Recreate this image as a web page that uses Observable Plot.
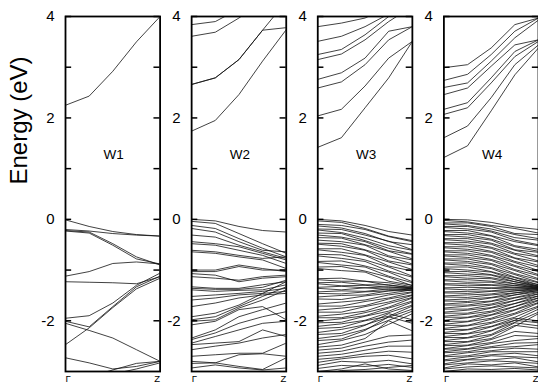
<!DOCTYPE html>
<html><head><meta charset="utf-8">
<script src="https://cdn.jsdelivr.net/npm/d3@7"></script>
<script src="https://cdn.jsdelivr.net/npm/@observablehq/plot@0.6"></script>
<style>body{margin:0;background:#fff}#chart{width:538px;height:387px;overflow:hidden}</style>
</head><body><div id="chart"></div>
<script>
const kPoints = [0, 0.25, 0.5, 0.75, 1];
const panels = ["W1", "W2", "W3", "W4"];
const yTicksMajor = [4, 2, 0, -2];
const yTicksMinor = [3, 1, -1];
const kLabels = ["Γ", "Z"];
const yTitle = "Energy (eV)";

const w1Bands = [
  [2.25, 2.43, 2.92, 3.5, 4.0],
  [-0.01, -0.14, -0.24, -0.3, -0.33],
  [-0.2, -0.23, -0.28, -0.31, -0.33],
  [-0.22, -0.25, -0.48, -0.74, -0.9],
  [-0.23, -0.27, -0.51, -0.78, -0.88],
  [-1.12, -1.03, -0.87, -0.84, -0.88],
  [-1.23, -1.24, -1.25, -1.27, -1.13],
  [-1.95, -1.9, -1.65, -1.3, -1.06],
  [-2.01, -2.12, -1.72, -1.33, -1.12],
  [-2.05, -2.19, -2.34, -2.57, -2.8],
  [-2.47, -2.14, -1.74, -1.37, -1.16],
  [-2.73, -2.83, -2.95, -2.9, -2.8],
  [-3.2, -3.1, -2.97, -2.84, -2.8],
  [-3.3, -3.2, -3.05, -2.95, -2.83]
];

const w2Bands = [
  [3.84, 3.9, 4.15, 4.4, 4.6],
  [3.61, 3.69, 3.97, 4.3, 4.5],
  [2.66, 2.79, 3.15, 3.73, 3.78],
  [2.66, 2.79, 3.15, 3.73, 4.3],
  [1.74, 1.95, 2.46, 3.12, 3.74],
  [0.0, -0.03, -0.14, -0.22, -0.25],
  [-0.04, -0.08, -0.28, -0.48, -0.67],
  [-0.12, -0.18, -0.38, -0.57, -0.74],
  [-0.18, -0.25, -0.44, -0.61, -0.64],
  [-0.31, -0.35, -0.51, -0.64, -0.77],
  [-0.44, -0.48, -0.54, -0.67, -0.8],
  [-0.48, -0.51, -0.61, -0.71, -0.87],
  [-0.61, -0.64, -0.71, -0.77, -0.74],
  [-0.64, -0.67, -0.74, -0.8, -0.97],
  [-1.0, -1.0, -0.9, -0.97, -1.03],
  [-1.03, -1.03, -0.93, -1.0, -1.0],
  [-1.07, -1.1, -1.23, -1.16, -1.13],
  [-1.13, -1.16, -1.2, -1.13, -1.1],
  [-1.33, -1.36, -1.36, -1.29, -1.23],
  [-1.36, -1.38, -1.38, -1.34, -1.2],
  [-1.39, -1.42, -1.4, -1.39, -1.29],
  [-1.52, -1.49, -1.46, -1.42, -1.36],
  [-1.59, -1.55, -1.49, -1.46, -1.42],
  [-1.72, -1.65, -1.55, -1.49, -1.46],
  [-1.92, -1.85, -1.69, -1.46, -1.23],
  [-1.98, -1.92, -1.72, -1.52, -1.33],
  [-2.01, -1.98, -1.75, -1.59, -1.39],
  [-2.08, -2.01, -1.78, -1.72, -1.98],
  [-2.34, -2.18, -1.92, -1.78, -1.65],
  [-2.37, -2.24, -2.05, -1.92, -1.82],
  [-2.44, -2.31, -2.18, -2.05, -2.01],
  [-2.47, -2.44, -2.41, -2.18, -2.31],
  [-2.57, -2.5, -2.44, -2.34, -2.27],
  [-2.7, -2.67, -2.64, -2.64, -2.44],
  [-2.8, -2.83, -2.67, -2.65, -2.7],
  [-2.84, -2.83, -2.9, -2.96, -2.73],
  [-2.93, -2.87, -2.93, -2.97, -2.93]
];

const w3Bands = [
  [3.8, 3.87, 3.97, 4.2, 4.4],
  [3.51, 3.61, 3.8, 4.05, 4.3],
  [3.25, 3.35, 3.64, 4.0, 4.2],
  [3.15, 3.26, 3.54, 3.9, 4.2],
  [2.76, 2.89, 3.18, 3.71, 3.8],
  [2.59, 2.71, 3.05, 3.54, 3.8],
  [2.04, 2.17, 2.63, 3.18, 3.51],
  [1.42, 1.61, 2.2, 2.79, 3.51],
  [0.0, -0.03, -0.12, -0.24, -0.31],
  [-0.03, -0.06, -0.18, -0.33, -0.42],
  [-0.1, -0.12, -0.2, -0.34, -0.44],
  [-0.13, -0.17, -0.28, -0.44, -0.5],
  [-0.19, -0.2, -0.31, -0.43, -0.6],
  [-0.21, -0.26, -0.37, -0.52, -0.61],
  [-0.27, -0.28, -0.42, -0.57, -0.68],
  [-0.31, -0.35, -0.44, -0.62, -0.69],
  [-0.36, -0.37, -0.5, -0.63, -0.78],
  [-0.41, -0.44, -0.51, -0.72, -0.8],
  [-0.47, -0.48, -0.6, -0.74, -0.88],
  [-0.49, -0.53, -0.61, -0.82, -0.9],
  [-0.58, -0.58, -0.7, -0.84, -0.99],
  [-0.6, -0.65, -0.71, -0.92, -1.02],
  [-0.69, -0.7, -0.8, -0.94, -1.12],
  [-0.72, -0.77, -0.83, -1.02, -1.14],
  [-0.83, -0.82, -0.92, -1.04, -1.23],
  [-0.85, -0.9, -0.94, -1.12, -1.25],
  [-0.94, -0.93, -1.02, -1.14, -1.31],
  [-0.97, -1.01, -1.04, -1.22, -1.3],
  [-1.17, -1.16, -1.22, -1.25, -1.33],
  [-1.19, -1.22, -1.22, -1.3, -1.34],
  [-1.25, -1.24, -1.29, -1.29, -1.36],
  [-1.27, -1.31, -1.3, -1.34, -1.34],
  [-1.34, -1.32, -1.35, -1.33, -1.37],
  [-1.36, -1.39, -1.35, -1.38, -1.36],
  [-1.43, -1.41, -1.42, -1.37, -1.39],
  [-1.46, -1.47, -1.43, -1.41, -1.37],
  [-1.53, -1.5, -1.49, -1.41, -1.4],
  [-1.57, -1.58, -1.51, -1.46, -1.39],
  [-1.67, -1.63, -1.59, -1.49, -1.43],
  [-1.71, -1.71, -1.62, -1.55, -1.44],
  [-1.79, -1.75, -1.7, -1.57, -1.49],
  [-1.83, -1.83, -1.72, -1.63, -1.5],
  [-1.91, -1.87, -1.81, -1.66, -1.54],
  [-1.94, -1.94, -1.84, -1.73, -1.55],
  [-2.01, -1.96, -1.9, -1.75, -1.61],
  [-2.04, -2.03, -1.91, -1.81, -1.63],
  [-2.11, -2.06, -1.99, -1.84, -1.69],
  [-2.15, -2.13, -2.0, -1.91, -1.71],
  [-2.23, -2.17, -2.08, -1.93, -1.77],
  [-2.27, -2.25, -2.09, -1.86, -1.98],
  [-2.35, -2.29, -2.17, -1.99, -1.81],
  [-2.39, -2.36, -2.19, -1.92, -2.05],
  [-2.47, -2.39, -2.27, -2.07, -1.86],
  [-2.52, -2.48, -2.35, -2.0, -2.2],
  [-2.58, -2.54, -2.42, -2.3, -2.28],
  [-2.64, -2.6, -2.5, -2.42, -2.38],
  [-2.7, -2.66, -2.58, -2.5, -2.5],
  [-2.76, -2.72, -2.65, -2.6, -2.62],
  [-2.82, -2.75, -2.7, -2.68, -2.75],
  [-2.88, -2.8, -2.82, -2.78, -2.85],
  [-2.94, -2.88, -2.9, -2.86, -2.92],
  [-3.0, -2.95, -2.85, -2.95, -2.98],
  [-3.1, -2.98, -2.96, -2.92, -2.88]
];

const w4Bands = [
  [2.99, 3.05, 3.38, 3.84, 3.97],
  [2.74, 2.86, 3.25, 3.71, 3.97],
  [2.6, 2.69, 3.12, 3.58, 3.93],
  [2.46, 2.59, 3.02, 3.44, 3.54],
  [2.17, 2.3, 2.79, 3.31, 3.54],
  [2.07, 2.2, 2.69, 3.21, 3.51],
  [1.61, 1.84, 2.4, 3.05, 3.44],
  [1.22, 1.45, 2.14, 2.85, 3.38],
  [0.0, -0.01, -0.06, -0.15, -0.2],
  [-0.02, -0.05, -0.12, -0.18, -0.27],
  [-0.07, -0.07, -0.14, -0.28, -0.3],
  [-0.09, -0.12, -0.19, -0.3, -0.38],
  [-0.14, -0.14, -0.23, -0.36, -0.41],
  [-0.16, -0.19, -0.25, -0.41, -0.5],
  [-0.22, -0.22, -0.32, -0.44, -0.52],
  [-0.24, -0.27, -0.33, -0.52, -0.59],
  [-0.3, -0.3, -0.39, -0.54, -0.63],
  [-0.32, -0.35, -0.41, -0.6, -0.65],
  [-0.38, -0.38, -0.47, -0.61, -0.72],
  [-0.4, -0.43, -0.49, -0.67, -0.74],
  [-0.46, -0.46, -0.55, -0.69, -0.82],
  [-0.48, -0.51, -0.57, -0.76, -0.84],
  [-0.54, -0.54, -0.63, -0.77, -0.91],
  [-0.56, -0.59, -0.65, -0.83, -0.94],
  [-0.62, -0.62, -0.71, -0.85, -1.01],
  [-0.64, -0.67, -0.73, -0.91, -1.03],
  [-0.7, -0.7, -0.79, -0.93, -1.09],
  [-0.72, -0.75, -0.81, -0.99, -1.11],
  [-0.78, -0.78, -0.87, -1.01, -1.17],
  [-0.8, -0.83, -0.89, -1.07, -1.19],
  [-0.86, -0.86, -0.95, -1.09, -1.24],
  [-0.88, -0.91, -0.97, -1.14, -1.25],
  [-0.94, -0.94, -1.03, -1.15, -1.29],
  [-0.97, -1.0, -1.04, -1.19, -1.29],
  [-1.03, -1.03, -1.09, -1.19, -1.32],
  [-1.05, -1.08, -1.1, -1.23, -1.31],
  [-1.11, -1.11, -1.15, -1.23, -1.33],
  [-1.13, -1.16, -1.17, -1.27, -1.32],
  [-1.19, -1.19, -1.22, -1.27, -1.35],
  [-1.21, -1.24, -1.24, -1.31, -1.33],
  [-1.27, -1.27, -1.29, -1.3, -1.36],
  [-1.29, -1.31, -1.3, -1.34, -1.34],
  [-1.35, -1.34, -1.35, -1.34, -1.37],
  [-1.37, -1.39, -1.36, -1.38, -1.35],
  [-1.43, -1.42, -1.41, -1.37, -1.38],
  [-1.45, -1.46, -1.42, -1.41, -1.36],
  [-1.51, -1.49, -1.47, -1.41, -1.39],
  [-1.53, -1.54, -1.49, -1.45, -1.38],
  [-1.59, -1.57, -1.54, -1.45, -1.41],
  [-1.61, -1.62, -1.55, -1.49, -1.4],
  [-1.67, -1.64, -1.61, -1.49, -1.43],
  [-1.69, -1.69, -1.62, -1.54, -1.44],
  [-1.75, -1.71, -1.67, -1.55, -1.47],
  [-1.77, -1.77, -1.69, -1.6, -1.47],
  [-1.83, -1.79, -1.74, -1.6, -1.51],
  [-1.85, -1.85, -1.75, -1.66, -1.51],
  [-1.91, -1.87, -1.81, -1.66, -1.55],
  [-1.93, -1.93, -1.83, -1.72, -1.55],
  [-1.99, -1.94, -1.88, -1.72, -1.59],
  [-2.01, -2.01, -1.89, -1.78, -1.6],
  [-2.07, -2.02, -1.95, -1.79, -1.64],
  [-2.09, -2.09, -1.97, -1.85, -1.65],
  [-2.15, -2.1, -2.03, -1.87, -1.71],
  [-2.17, -2.17, -2.05, -1.93, -1.73],
  [-2.23, -2.18, -2.11, -1.95, -2.0],
  [-2.25, -2.25, -2.12, -1.99, -2.04],
  [-2.31, -2.26, -2.19, -1.99, -1.77],
  [-2.33, -2.33, -2.2, -2.03, -1.83],
  [-2.39, -2.34, -2.27, -2.04, -2.1],
  [-2.41, -2.41, -2.29, -2.09, -2.15],
  [-2.47, -2.42, -2.35, -2.11, -1.86],
  [-2.49, -2.48, -2.37, -2.21, -2.25],
  [-2.55, -2.49, -2.43, -2.29, -2.31],
  [-2.56, -2.55, -2.45, -2.39, -2.35],
  [-2.61, -2.56, -2.51, -2.44, -2.43],
  [-2.63, -2.61, -2.53, -2.51, -2.47],
  [-2.69, -2.63, -2.59, -2.54, -2.56],
  [-2.71, -2.69, -2.61, -2.61, -2.61],
  [-2.77, -2.71, -2.67, -2.64, -2.69],
  [-2.79, -2.76, -2.69, -2.71, -2.73],
  [-2.85, -2.77, -2.77, -2.73, -2.81],
  [-2.87, -2.83, -2.79, -2.81, -2.84],
  [-2.93, -2.85, -2.87, -2.83, -2.91],
  [-2.95, -2.91, -2.89, -2.91, -2.93],
  [-3.0, -2.95, -2.96, -2.94, -2.97]
];

const bandSets = [w1Bands, w2Bands, w3Bands, w4Bands];
const rows = [];
panels.forEach((p, pi) => {
  bandSets[pi].forEach((band, bi) => {
    band.forEach((e, ki) => rows.push({panel: p, band: p + "-" + bi, k: kPoints[ki], e}));
  });
});
const allTicks = yTicksMajor.concat(yTicksMinor);

const chart = Plot.plot({
  width: 538,
  height: 387,
  marginTop: 16,
  marginBottom: 16,
  marginLeft: 65,
  marginRight: 0,
  style: {fontFamily: "'Liberation Sans', Arial, sans-serif", background: "#fff", color: "#000", overflow: "visible"},
  fx: {domain: panels, axis: null, paddingInner: 0.25, paddingOuter: 0, round: false},
  x: {domain: [0, 1], axis: null},
  y: {domain: [-3, 4], axis: null},
  marks: [
    Plot.line(rows, {fx: "panel", x: "k", y: "e", z: "band", stroke: "#111", strokeWidth: 0.8, clip: true}),
    Plot.ruleY(allTicks, {y: d => d, x1: 0, x2: 0.065, stroke: "#000", strokeWidth: 1.5}),
    Plot.ruleY(allTicks, {y: d => d, x1: 0.935, x2: 1, stroke: "#000", strokeWidth: 1.5}),
    Plot.frame({stroke: "#000", strokeWidth: 1.8}),
    Plot.text(yTicksMajor, {x: 0, y: d => d, text: d => String(d), textAnchor: "end", dx: -11, fontSize: 15, fill: "#000"}),
    Plot.text(panels, {fx: d => d, x: 0.51, y: 1.28, text: d => d, fontSize: 13.5, fill: "#000"}),
    Plot.text([kLabels[0]], {x: 0, frameAnchor: "bottom", textAnchor: "start", dy: 10, text: d => d, fontSize: 9.5, fill: "#000"}),
    Plot.text([kLabels[1]], {x: 1, frameAnchor: "bottom", textAnchor: "end", dy: 10, text: d => d, fontSize: 9.5, fill: "#000"}),
    Plot.text([yTitle], {fx: () => "W1", frameAnchor: "left", rotate: -90, dx: -46, dy: -9.5, text: d => d, fontSize: 24, fill: "#000"})
  ]
});
document.getElementById("chart").appendChild(chart);
</script>
</body></html>
